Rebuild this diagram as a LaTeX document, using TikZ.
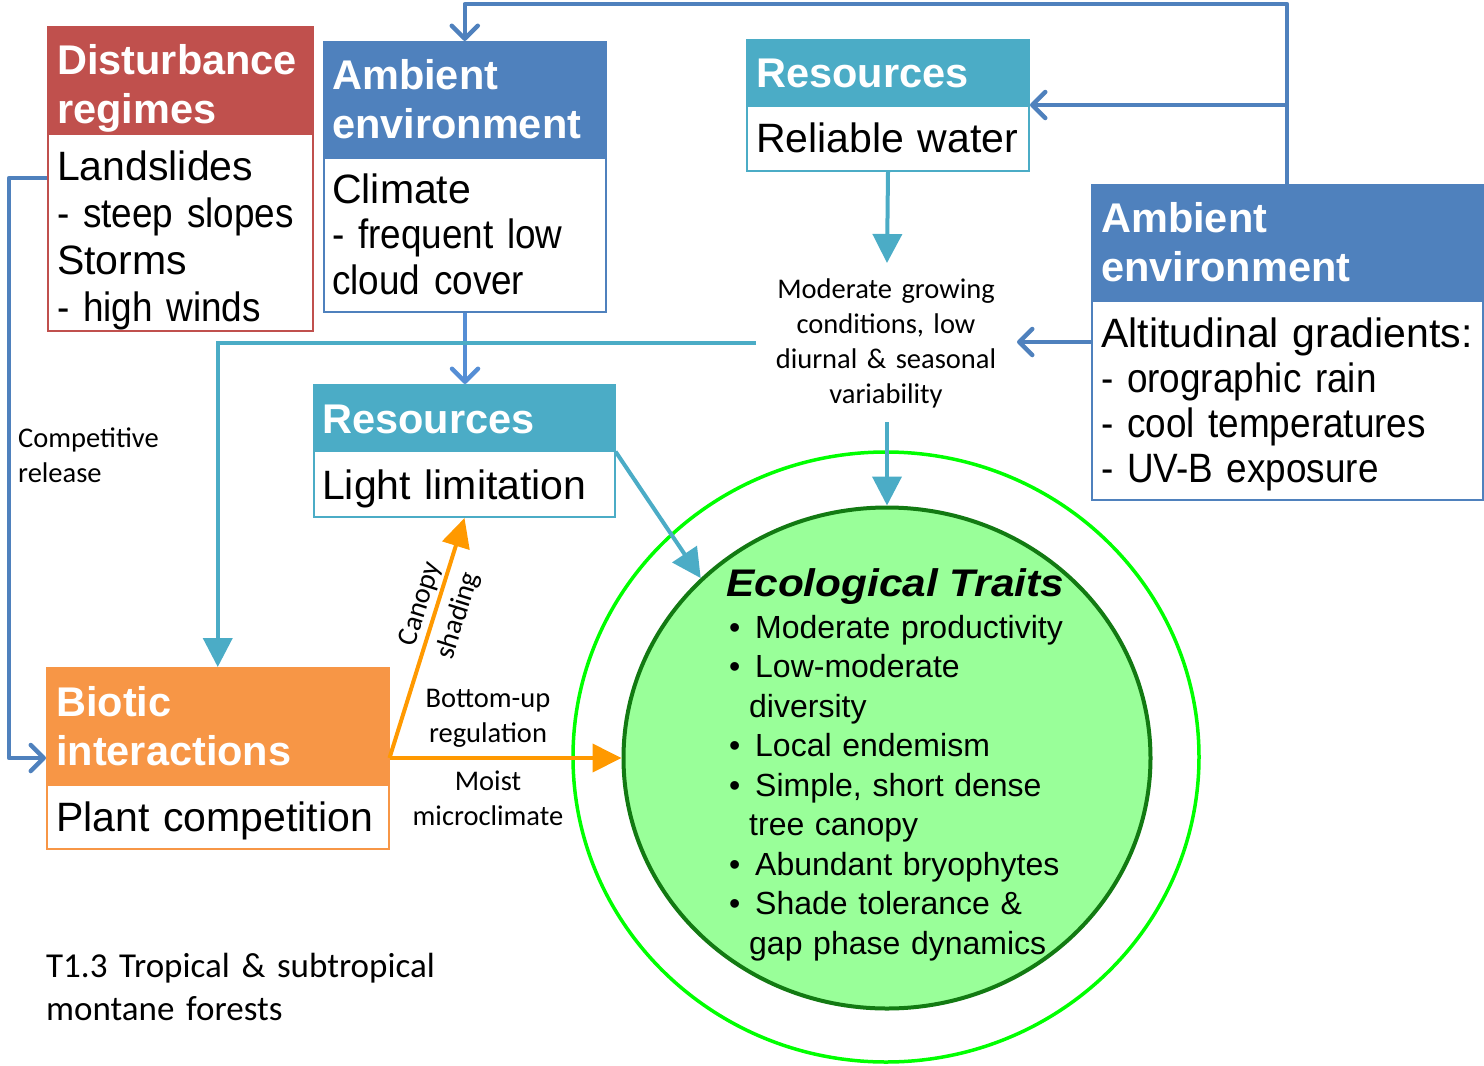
\documentclass[tikz,border=0pt]{standalone}
\usepackage{fontspec}
\setmainfont{Liberation Sans}
\newfontfamily\calfont{Carlito}
\newfontfamily\condfont{Liberation Sans}[FakeStretch=0.9]
\newfontfamily\widefont{Liberation Sans}[FakeStretch=1.1]
\usetikzlibrary{arrows.meta,shapes.geometric}

\definecolor{dRed}{HTML}{C0504D}
\definecolor{dBlue}{HTML}{4F81BD}
\definecolor{lBlue}{HTML}{558ED5}
\definecolor{dTeal}{HTML}{4BACC6}
\definecolor{dOrange}{HTML}{F79646}
\definecolor{aOrange}{HTML}{FF9900}
\definecolor{ringGreen}{HTML}{00FF00}
\definecolor{traitEdge}{HTML}{127A12}
\definecolor{traitFill}{HTML}{99FF99}

% font shortcuts
\newcommand\fHead{\bfseries\fontsize{41.5}{49}\selectfont}
\newcommand\fBody{\fontsize{41}{47}\selectfont}
\newcommand\fLbl{\calfont\fontsize{28.5}{35}\selectfont}
\newcommand\fList{\fontsize{32}{39.5}\selectfont\spaceskip=0.42em plus 0.1em}
\newcommand\nar[1]{{\condfont #1}}

\tikzset{
  boxhead/.style={rectangle, draw=#1, fill=#1, line width=1.5pt, inner sep=0pt, anchor=north west},
  boxbody/.style={rectangle, draw=#1, fill=white, line width=2pt, inner sep=0pt, anchor=north west},
  headtxt/.style={anchor=base west, inner sep=0pt, text=white, font=\fHead, text width=#1, align=left},
  bodytxt/.style={anchor=base west, inner sep=0pt, font=\fBody, text width=#1, align=left},
  lbltxt/.style={inner sep=0pt, font=\fLbl, text width=#1},
  bluearrow/.style={draw=dBlue, line width=4.5pt, line join=round,
    -{Straight Barb[length=13pt,width=26pt,round]}},
  tealarrow/.style={draw=dTeal, line width=4pt, -{Triangle[length=29pt,width=29pt]}},
  orangearrow/.style={draw=aOrange, line width=4pt, -{Triangle[length=29pt,width=28pt]}}
}

\begin{document}
\begin{tikzpicture}[x=1pt,y=-1pt]
\useasboundingbox (0,0) rectangle (1484,1066);

% trait rings
\node[ellipse, draw=ringGreen, line width=3.5pt, minimum width=626pt, minimum height=610pt, inner sep=0pt] (ring) at (886,757) {};
\node[ellipse, draw=traitEdge, fill=traitFill, line width=4pt, minimum width=527pt, minimum height=501pt, inner sep=0pt] (traits) at (887,758) {};

% boxes
\node[boxhead=dRed, minimum width=265pt, minimum height=107pt] (disH) at (47,26) {};
\node[boxbody=dRed, minimum width=265pt, minimum height=197pt] (disB) at (47,133) {};
\node[boxhead=dBlue, minimum width=282pt, minimum height=116pt] (ambH1) at (323,41) {};
\node[boxbody=dBlue, minimum width=282pt, minimum height=154pt] (ambB1) at (323,157) {};
\node[boxhead=dTeal, minimum width=282pt, minimum height=66pt] (resH1) at (746,39) {};
\node[boxbody=dTeal, minimum width=282pt, minimum height=65pt] (resB1) at (746,105) {};
\node[boxhead=dBlue, minimum width=391pt, minimum height=116pt] (ambH2) at (1091,184) {};
\node[boxbody=dBlue, minimum width=391pt, minimum height=199pt] (ambB2) at (1091,300) {};
\node[boxhead=dTeal, minimum width=301pt, minimum height=66pt] (resH2) at (313,384) {};
\node[boxbody=dTeal, minimum width=301pt, minimum height=66pt] (resB2) at (313,450) {};
\node[boxhead=dOrange, minimum width=342pt, minimum height=117pt] (bioH) at (46,667) {};
\node[boxbody=dOrange, minimum width=342pt, minimum height=64pt] (bioB) at (46,784) {};

% box texts
\node[headtxt=300] (disHt) at (57,74) {Disturbance\\regimes};
\node[bodytxt=300] (disBt) at (57,180) {Landslides\\\nar{- steep slopes}\\Storms\\\nar{- high winds}};
\node[headtxt=300] (ambH1t) at (332,89) {Ambient\\environment};
\node[bodytxt=300, font=\fontsize{41}{45.5}\selectfont] (ambB1t) at (332,203) {Climate\\\nar{- frequent low}\\\nar{cloud cover}};
\node[headtxt=300] (resH1t) at (756,87) {Resources};
\node[bodytxt=300] (resB1t) at (756,152) {Reliable water};
\node[headtxt=380] (ambH2t) at (1101,232) {Ambient\\environment};
\node[bodytxt=400, font=\fontsize{41}{45}\selectfont] (ambB2t) at (1101,347) {Altitudinal gradients:\\\nar{- orographic rain}\\\nar{- cool temperatures}\\\nar{- UV-B exposure}};
\node[headtxt=300] (resH2t) at (322,433) {Resources};
\node[bodytxt=300] (resB2t) at (322,499) {Light limitation};
\node[headtxt=330] (bioHt) at (56,716) {Biotic\\interactions};
\node[bodytxt=330] (bioBt) at (56,831) {Plant competition};

% connectors
\coordinate (topL) at (1287,4);
\draw[bluearrow] (ambH2.north -| topL) -- (topL) -| (ambH1.north);
\draw[bluearrow] (topL |- resB1.north east) -- (resB1.north east);
\coordinate (growE) at (1017,342);
\draw[bluearrow] (ambB2.west |- growE) -- (growE);
\coordinate (dl) at (9,178);
\coordinate (bl) at (9,758);
\draw[bluearrow] (disB.west |- dl) -- (dl) -- (bl) -- (bioH.west |- bl);
\draw[bluearrow, draw=lBlue] (ambB1.south) -- (ambB1.south |- resH2.north);

\coordinate (growN) at (887,263);
\coordinate (growS) at (887,422);
\coordinate (growW) at (756,343);
\draw[tealarrow] (resB1.south) -- (growN);
\draw[tealarrow] (growS) -- (traits.north);
\draw[tealarrow] (growW) -| (bioH.north);
\draw[tealarrow] (resH2.south east) -- (traits.136);

\coordinate (bioOut) at (bioH.east |- traits.west);
\draw[orangearrow] (bioOut) -- (traits.west);
\draw[orangearrow] (bioOut) -- (resB2.south);

% connector labels
\node[lbltxt=260, align=center, anchor=base] (grow) at (886,298) {Moderate growing\\conditions, low\\diurnal \& seasonal\\variability};
\node[lbltxt=200, align=left, anchor=base west] (compRel) at (18,447) {Competitive\\release};
\node[lbltxt=180, align=center, anchor=base] (bottomUp) at (488,707) {Bottom-up\\regulation};
\node[lbltxt=180, align=center, anchor=base] (moist) at (488,790) {Moist\\microclimate};
\node[lbltxt=140, align=center, anchor=center, rotate=72.6, font=\calfont\fontsize{28.5}{40}\selectfont] (shade) at (440,610) {Canopy\\shading};

% ecological traits
\node[anchor=base west, inner sep=0pt, font=\widefont\bfseries\itshape\fontsize{38.5}{44}\selectfont] (traitHead) at (726,596) {Ecological Traits};
\node[anchor=base west, inner sep=0pt, font=\fList, text width=420, align=left] (traitList) at (729,638) {%
\makebox[26pt][l]{•}Moderate productivity\\
\makebox[26pt][l]{•}Low-moderate\\
\hspace*{20pt}diversity\\
\makebox[26pt][l]{•}Local endemism\\
\makebox[26pt][l]{•}Simple, short dense\\
\hspace*{20pt}tree canopy\\
\makebox[26pt][l]{•}Abundant bryophytes\\
\makebox[26pt][l]{•}Shade tolerance \&\\
\hspace*{20pt}gap phase dynamics};

% caption
\node[anchor=base west, inner sep=0pt, font=\calfont\fontsize{35}{43.5}\selectfont, text width=480, align=left] (caption) at (46,977) {T1.3 Tropical \& subtropical\\montane forests};
\end{tikzpicture}
\end{document}
